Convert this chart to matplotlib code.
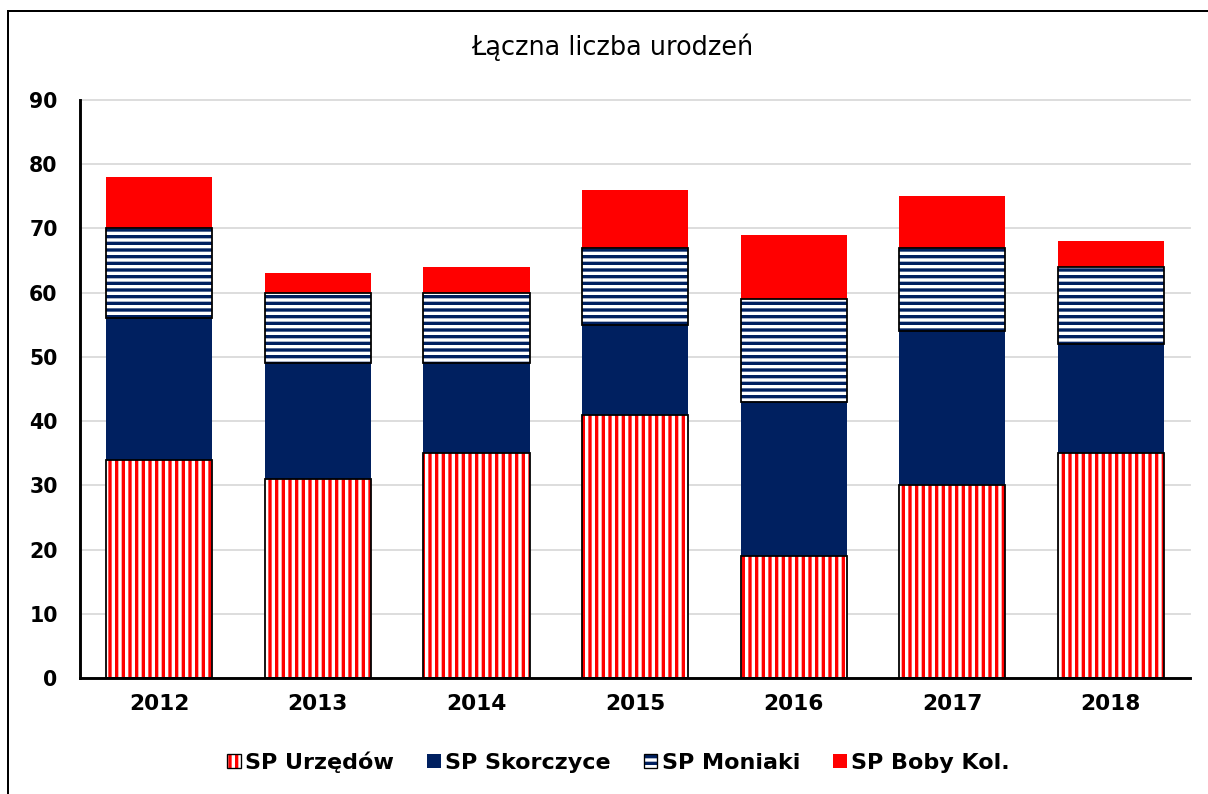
import matplotlib.pyplot as plt
from matplotlib.patches import Patch
from matplotlib.lines import Line2D

years = ['2012', '2013', '2014', '2015', '2016', '2017', '2018']
urzedow = [34, 31, 35, 41, 19, 30, 35]
skorczyce = [22, 18, 14, 14, 24, 24, 17]
moniaki = [14, 11, 11, 12, 16, 13, 12]
boby = [8, 3, 4, 9, 10, 8, 4]
labels = ['SP Urzędów', 'SP Skorczyce', 'SP Moniaki', 'SP Boby Kol.']

navy = '#002060'
red = '#FF0000'

plt.rcParams['font.family'] = 'DejaVu Sans'
plt.rcParams['hatch.linewidth'] = 3.0

fig = plt.figure(figsize=(15.1, 9.925), dpi=80)
ax = fig.add_axes([0.0662, 0.146, 0.919, 0.728])

x = list(range(len(years)))
w = 0.67
b2 = [a + b for a, b in zip(urzedow, skorczyce)]
b3 = [a + b for a, b in zip(b2, moniaki)]

# hatched series: stripes first, black outline on top
ax.bar(x, urzedow, w, color='white', edgecolor=red, hatch='||', linewidth=0, zorder=3)
ax.bar(x, urzedow, w, fill=False, edgecolor='black', linewidth=1.6, zorder=4)
ax.bar(x, skorczyce, w, bottom=urzedow, color=navy, linewidth=0, zorder=3)
ax.bar(x, moniaki, w, bottom=b2, color='white', edgecolor=navy, hatch='--', linewidth=0, zorder=3)
ax.bar(x, moniaki, w, bottom=b2, fill=False, edgecolor='black', linewidth=1.6, zorder=4)
ax.bar(x, boby, w, bottom=b3, color=red, linewidth=0, zorder=3)

ax.set_xlim(-0.5, len(years) - 0.5)
ax.set_ylim(0, 90)
ax.set_yticks(range(0, 91, 10))
ax.set_xticks(x)
ax.set_xticklabels(years)
ax.tick_params(axis='y', length=0, labelsize=18.5, pad=20)
ax.tick_params(axis='x', length=0, labelsize=19.5, pad=14)
for t in ax.get_xticklabels() + ax.get_yticklabels():
    t.set_fontweight('bold')
ax.yaxis.grid(True, color='#D9D9D9', linewidth=1.6, zorder=0)
for gl in ax.get_ygridlines():
    gl.set_clip_on(False)
ax.set_axisbelow(True)
for s in ['top', 'right']:
    ax.spines[s].set_visible(False)
ax.spines['left'].set_linewidth(2.6)
ax.spines['bottom'].set_linewidth(2.6)
ax.spines['left'].set_zorder(5)
ax.spines['bottom'].set_zorder(5)

fig.text(0.507, 0.94, 'Łączna liczba urodzeń', ha='center', va='center', fontsize=23)

handles = [
    (Patch(facecolor='white', edgecolor=red, hatch='||', linewidth=0),
     Patch(fill=False, edgecolor='black', linewidth=1.2)),
    Patch(facecolor=navy),
    (Patch(facecolor='white', edgecolor=navy, hatch='--', linewidth=0),
     Patch(fill=False, edgecolor='black', linewidth=1.2)),
    Patch(facecolor=red),
]
fig.legend(handles, labels, loc='center', bbox_to_anchor=(0.512, 0.04), ncol=4,
           frameon=False, handlelength=0.6, handleheight=0.6, handletextpad=0.2,
           columnspacing=1.5, prop={'weight': 'bold', 'size': 20})

# outer chart border (only top and left visible in the crop)
x0 = 8 / 1208
y0 = 1 - 11 / 794
fig.add_artist(Line2D([x0, 1], [y0, y0], color='black', linewidth=1.8, transform=fig.transFigure))
fig.add_artist(Line2D([x0, x0], [0, y0], color='black', linewidth=1.8, transform=fig.transFigure))

fig.savefig('out.png', dpi=80)
